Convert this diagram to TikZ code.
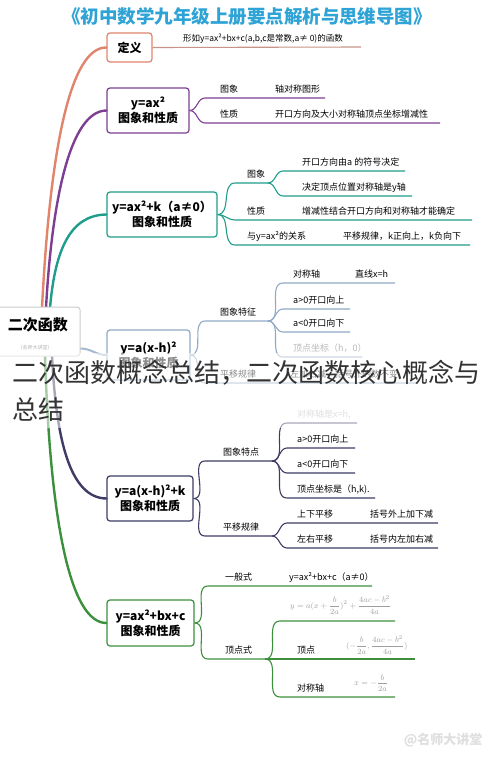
\documentclass[tikz,border=0pt]{standalone}
\usepackage{fontspec}
\newfontfamily\cjk{Noto Sans CJK SC}
\usetikzlibrary{positioning,calc}
\definecolor{ctitle}{HTML}{2EA3D5}
\definecolor{cdef}{HTML}{E0856C}
\definecolor{cdefl}{HTML}{C79587}
\definecolor{cpur}{HTML}{7E3F92}
\definecolor{cteal}{HTML}{1F9C8B}
\definecolor{csteel}{HTML}{8FA9C6}
\definecolor{cnavy}{HTML}{3E3C64}
\definecolor{cgreen}{HTML}{3C8F3C}
\tikzset{
  box/.style={draw,rounded corners=3pt,line width=1.2pt,fill=white,align=center,inner sep=2pt,
    font=\cjk\bfseries\fontsize{12}{15}\selectfont},
  leaf/.style={anchor=base west,inner sep=0pt,font=\cjk\fontsize{9}{10}\selectfont},
  twig/.style={line width=1.1pt},
  trunk/.style={line width=2.4pt,line cap=round},
  fml/.style={anchor=west,inner sep=0pt,text=gray!75,font=\fontsize{8}{9}\selectfont},
}
\begin{document}
\begin{tikzpicture}[x=1pt,y=-1pt]
\useasboundingbox[fill=white] (0,0) rectangle (490,758);
\node[font=\cjk\bfseries\fontsize{18.5}{20}\selectfont,text=ctitle] (title) at (247,16) {《初中数学九年级上册要点解析与思维导图》};

% trunks from the root
\coordinate (r1) at (42,308);\coordinate (r2) at (46,308);\coordinate (r3) at (50,308);
\coordinate (r5) at (52,355);\coordinate (r6) at (45,355);
\node[box,draw=cdef,minimum width=45pt,minimum height=29pt] (box1) at (129.5,47.5) {定义};
\node[box,draw=cpur,minimum width=82pt,minimum height=45pt] (box2) at (148,110.5) {y=ax²\\图象和性质};
\node[box,draw=cteal,minimum width=110pt,minimum height=45pt] (box3) at (162,214.5) {y=ax²+k（a≠0）\\图象和性质};
\node[box,draw=csteel,minimum width=83pt,minimum height=50pt] (box4) at (148.5,355) {y=a(x-h)²\\图象和性质};
\node[box,draw=cnavy,minimum width=86pt,minimum height=45pt] (box5) at (150,498.5) {y=a(x-h)²+k\\图象和性质};
\node[box,draw=cgreen,minimum width=87pt,minimum height=46pt] (box6) at (150.5,623) {y=ax²+bx+c\\图象和性质};
\foreach \c/\a/\p/\q/\b in {cdef/r1/{50,150}/{70,47}/box1, cpur/r2/{52,200}/{70,111}/box2,
    cteal/r3/{55,250}/{70,215}/box3, cnavy/r5/{56,440}/{70,498}/box5, cgreen/r6/{50,520}/{70,623}/box6}
  \draw[trunk,\c] (\a) .. controls (\p) and (\q) .. (\b.west);

% root
\node[box,draw=gray!40,line width=1pt,minimum width=86pt,minimum height=49pt] (root) at (37,331.5) {};
\node[font=\cjk\bfseries\fontsize{15}{17}\selectfont] (rootlbl) at (38,325) {二次函数};
\node[font=\cjk\fontsize{5}{6}\selectfont,text=gray!60] (rootwm) at (35,348) {（名师大讲堂）};
\draw[line width=2pt,csteel!80] ([yshift=-17pt]root.east) to[out=0,in=180] (box4.west);

% definition
\draw[twig,cdefl] (box1.east) -- (361,47) coordinate (b1e);
\node[leaf,font=\cjk\fontsize{8.5}{10}\selectfont] (b1t) at (183,41.5) {形如y=ax²+bx+c(a,b,c是常数,a≠ 0)的函数};

% y=ax^2
\foreach \y/\e/\l/\t [count=\i] in {98/325/图象/轴对称图形, 123/440/性质/开口方向及大小对称轴顶点坐标增减性}{
  \draw[twig,cpur] (box2.east) to[out=0,in=180] (205,\y) coordinate (b2s\i) -- (\e,\y) coordinate (b2e\i);
  \node[leaf] (b2l\i) at (220,\y-5.5) {\l};
  \node[leaf] (b2t\i) at (275,\y-5.5) {\t};
}

% y=ax^2+k
\draw[twig,cteal] (box3.east) to[out=0,in=180] (235,183) coordinate (b3a) -- (268,183) coordinate (b3h);
\node[leaf] (b3al) at (247,177.5) {图象};
\foreach \y/\e/\t [count=\i] in {171/405/开口方向由a 的符号决定, 196/412/决定顶点位置对称轴是y轴}{
  \draw[twig,cteal] (b3h) to[out=0,in=180] (283,\y) coordinate (b3s\i) -- (\e,\y) coordinate (b3e\i);
  \node[leaf] (b3t\i) at (302,\y-5.5) {\t};
}
\foreach \y/\e/\l/\x/\t [count=\i] in {220/472/性质/302/增减性结合开口方向和对称轴才能确定,
    245/470/与y=ax²的关系/343/平移规律，k正向上，k负向下}{
  \draw[twig,cteal] (box3.east) to[out=0,in=180] (235,\y) coordinate (b3m\i) -- (\e,\y) coordinate (b3n\i);
  \node[leaf] (b3l\i) at (247,\y-5.5) {\l};
  \node[leaf] (b3r\i) at (\x,\y-5.5) {\t};
}

% y=a(x-h)^2
\draw[twig,csteel] (box4.east) to[out=0,in=180] (205,321) coordinate (b4a) -- (268,321) coordinate (b4h);
\node[leaf] (b4al) at (220,315.5) {图象特征};
\foreach \y/\e/\t [count=\i] in {283/395/对称轴, 309/350/a>0开口向上, 332/350/a<0开口向下,
    357/362/\textcolor{gray!55}{顶点坐标（h，0）}}{
  \draw[twig,csteel] (b4h) to[out=0,in=180] (283,\y) coordinate (b4s\i) -- (\e,\y) coordinate (b4e\i);
  \node[leaf] (b4t\i) at (293,\y-5.5) {\t};
}
\node[leaf] (b4x) at (355,277.5) {直线x=h};
\draw[twig,csteel] (box4.east) to[out=0,in=180] (205,383) coordinate (b4b) -- (417,383) coordinate (b4be);
\node[leaf] (b4bl) at (220,377.5) {平移规律};
\node[leaf] (b4bt) at (290,377.5) {左加右减，括号外的数不变};

% y=a(x-h)^2+k
\draw[twig,cnavy] (box5.east) to[out=0,in=180] (205,461) coordinate (b5a) -- (272,461) coordinate (b5h);
\node[leaf] (b5al) at (223,455.5) {图象特点};
\foreach \y/\e/\t [count=\i] in {423/357/{\textcolor{gray!55}{对称轴是x=h,}}, 448/355/a>0开口向上, 473/355/a<0开口向下,
    498/375/{顶点坐标是（h,k).}}{
  \draw[twig,cnavy] (b5h) to[out=0,in=180] (287,\y) coordinate (b5s\i) -- (\e,\y) coordinate (b5e\i);
  \node[leaf] (b5t\i) at (297,\y-5.5) {\t};
}
\draw[twig,cnavy] (box5.east) to[out=0,in=180] (205,536) coordinate (b5b) -- (272,536) coordinate (b5k);
\node[leaf] (b5bl) at (223,530.5) {平移规律};
\foreach \y/\l/\t [count=\i] in {523/上下平移/括号外上加下减, 548/左右平移/括号内左加右减}{
  \draw[twig,cnavy] (b5k) to[out=0,in=180] (287,\y) coordinate (b5p\i) -- (438,\y) coordinate (b5q\i);
  \node[leaf] (b5u\i) at (297,\y-5.5) {\l};
  \node[leaf] (b5v\i) at (370,\y-5.5) {\t};
}

% y=ax^2+bx+c
\draw[twig,cgreen] (box6.east) to[out=0,in=180] (208,586) coordinate (b6a) -- (372,586) coordinate (b6ae);
\node[leaf] (b6al) at (225,580.5) {一般式};
\node[leaf] (b6at) at (289,580.5) {y=ax²+bx+c（a≠0）};
\draw[twig,cgreen] (box6.east) to[out=0,in=180] (208,659) coordinate (b6b) -- (265,659) coordinate (b6h);
\node[leaf] (b6bl) at (225,653.5) {顶点式};
\draw[twig,cgreen] (b6h) to[out=0,in=180] (280,621) coordinate (b6s1) -- (395,621) coordinate (b6e1);
\draw[twig,cgreen] (b6h) -- (415,659) coordinate (b6e2);
\draw[twig,cgreen] (b6h) to[out=0,in=180] (280,697) coordinate (b6s3) -- (395,697) coordinate (b6e3);
\node[fml] (f1) at (290,605) {$\displaystyle y=a(x+\frac{b}{2a})^2+\frac{4ac-b^2}{4a}$};
\node[leaf] (b6t2) at (297,653.5) {顶点};
\node[fml] (f2) at (346,645) {$\displaystyle (-\frac{b}{2a},\frac{4ac-b^2}{4a})$};
\node[leaf] (b6t3) at (297,691.5) {对称轴};
\node[fml] (f3) at (354,683) {$\displaystyle x=-\frac{b}{2a}$};

% watermark and caption
\node[anchor=east,font=\cjk\bfseries\fontsize{13}{14}\selectfont,text=gray!25] (wm) at (486,740) {@名师大讲堂};
\fill[white,opacity=0.55] (0,353) rectangle (490,428);
\node[anchor=base west,inner sep=0pt,font=\cjk\fontsize{26}{30}\selectfont,text=black!80] (cap1) at (12,382) {二次函数概念总结，二次函数核心概念与};
\node[anchor=base west,inner sep=0pt,font=\cjk\fontsize{26}{30}\selectfont,text=black!80] (cap2) at (12,419) {总结};
\end{tikzpicture}
\end{document}
